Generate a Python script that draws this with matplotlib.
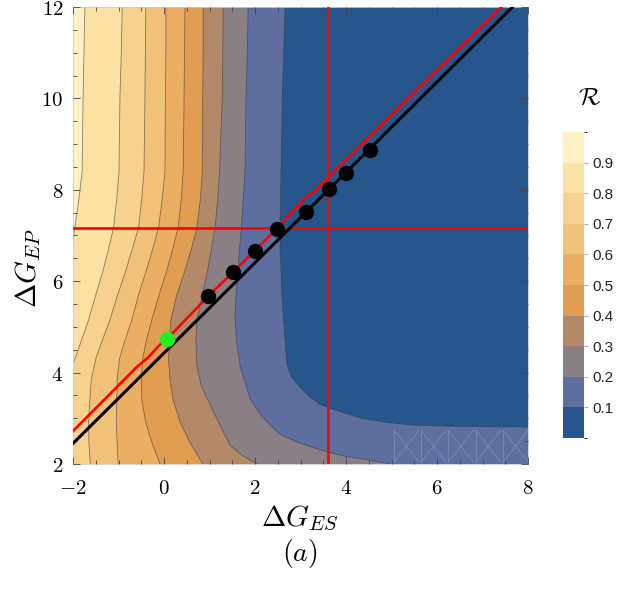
import numpy as np
import matplotlib.pyplot as plt
from matplotlib.colors import ListedColormap, BoundaryNorm
from matplotlib.cm import ScalarMappable

plt.rcParams['mathtext.fontset'] = 'cm'

# axis ranges and ticks
x_lim = [-2, 8]
y_lim = [2, 12]
x_ticks = [-2, 0, 2, 4, 6, 8]
y_ticks = [2, 4, 6, 8, 10, 12]

# contour levels of R and band colours (lowest band first)
levels = [0.0, 0.1, 0.2, 0.3, 0.4, 0.5, 0.6, 0.7, 0.8, 0.9, 1.0]
band_colors = ['#26568B', '#5E6E9F', '#8A7F85', '#B38A69', '#E19D51',
               '#EBAF63', '#F2C179', '#F7D18E', '#FCE1A5', '#FFF1C4']
cbar_labels = ['0.1', '0.2', '0.3', '0.4', '0.5', '0.6', '0.7', '0.8', '0.9']

# contour lines, from the top edge downwards
yy = [12, 11, 10, 8.4, 7.8, 7.17, 6.7, 6.2, 5.7, 5.15, 4.7, 4.3, 3.85, 3.4, 2.9, 2.45, 2.0]

c90_x = [-1.74, -1.76, -1.78, -1.80, -1.87, -1.96, -2.0]
c90_y = [12, 11, 10, 8.4, 7.8, 7.17, 6.9]

c80_x = [-0.92, -0.94, -0.97, -0.99, -1.04, -1.11, -1.22, -1.35, -1.50, -1.66, -1.80, -1.92, -2.0]
c80_y = [12, 11, 10, 8.4, 7.8, 7.17, 6.7, 6.2, 5.7, 5.15, 4.75, 4.4, 4.2]

c70_x = [-0.40, -0.41, -0.42, -0.44, -0.49, -0.56, -0.70, -0.85, -1.02, -1.19, -1.36, -1.50, -1.60, -1.63, -1.66, -1.65, -1.62]
c60_x = [0.04, 0.04, 0.03, 0.02, -0.04, -0.12, -0.25, -0.40, -0.56, -0.71, -0.86, -0.98, -1.03, -1.04, -1.05, -1.03, -1.01]
c50_x = [0.46, 0.45, 0.44, 0.42, 0.38, 0.31, 0.19, 0.05, -0.11, -0.27, -0.39, -0.47, -0.50, -0.49, -0.40, -0.26, -0.09]
c40_x = [0.86, 0.86, 0.85, 0.84, 0.80, 0.72, 0.60, 0.45, 0.28, 0.15, 0.12, 0.10, 0.13, 0.20, 0.36, 0.58, 0.85]

c30_x = [1.30, 1.29, 1.28, 1.22, 1.18, 1.12, 1.04, 0.95, 0.84, 0.72, 0.70, 0.72, 0.82, 1.01, 1.23, 1.45, 1.70, 1.96, 2.05]
c30_y = [12, 11, 10, 8.4, 7.8, 7.17, 6.7, 6.2, 5.7, 5.15, 4.7, 4.15, 3.7, 3.3, 2.85, 2.41, 2.2, 2.05, 2.0]

c20_x = [1.85, 1.83, 1.80, 1.78, 1.74, 1.70, 1.66, 1.62, 1.58, 1.56, 1.59, 1.67, 1.89, 2.10, 2.33, 2.55, 2.92, 3.30, 3.65, 4.02, 4.31, 4.97]
c20_y = [12, 11, 10, 8.4, 7.8, 7.17, 6.7, 6.2, 5.7, 5.2, 4.7, 4.15, 3.43, 3.1, 2.85, 2.65, 2.48, 2.35, 2.25, 2.16, 2.12, 2.0]

c10_x = [2.66, 2.63, 2.60, 2.57, 2.56, 2.55, 2.55, 2.57, 2.59, 2.62, 2.66, 2.70, 2.80, 2.99, 3.20, 3.43, 3.94, 4.38, 4.90, 5.48, 6.5, 8.0]
c10_y = [12, 11, 10, 8.4, 7.8, 7.17, 6.7, 6.2, 5.7, 5.24, 4.7, 4.19, 3.9, 3.68, 3.47, 3.3, 3.12, 2.99, 2.91, 2.85, 2.82, 2.81]

# straight black line, red path, red cross lines
black_x = [-2.0, 7.66]
black_y = [2.45, 12.0]
red_x = [-2.0, -0.6, -0.35, -0.1, 0.07, 0.97, 1.52, 2.0, 2.48, 3.14, 3.27, 3.87, 7.42]
red_y = [2.72, 4.12, 4.33, 4.6, 4.74, 5.67, 6.2, 6.67, 7.15, 7.86, 7.93, 8.54, 12.0]
red_vx = 3.6
red_hy = 7.17

# points
dot_x = [0.97, 1.52, 2.0, 2.48, 3.12, 3.63, 4.0, 4.53]
dot_y = [5.67, 6.20, 6.67, 7.15, 7.52, 8.02, 8.37, 8.87]
green_x = [0.07]
green_y = [4.74]

# faint mesh artefact in the lower right band
mesh_x0 = [5.05, 5.65, 6.25, 6.85, 7.45]
mesh_w = 0.55
mesh_y = [2.04, 2.74]

contours = [(0.1, c10_x, c10_y), (0.2, c20_x, c20_y), (0.3, c30_x, c30_y),
            (0.4, c40_x, yy), (0.5, c50_x, yy), (0.6, c60_x, yy),
            (0.7, c70_x, yy), (0.8, c80_x, c80_y), (0.9, c90_x, c90_y)]


def region(xs, ys):
    px, py = list(xs), list(ys)
    if px[-1] >= x_lim[1]:
        px.append(x_lim[1]); py.append(y_lim[0])
    if py[-1] <= y_lim[0]:
        px.append(x_lim[0]); py.append(y_lim[0])
    px.append(x_lim[0]); py.append(y_lim[1])
    return px, py


fig = plt.figure(figsize=(6.19, 5.94), dpi=100)
ax = fig.add_axes([0.118, 0.2189, 0.735, 0.7694])

ax.fill([x_lim[0], x_lim[1], x_lim[1], x_lim[0]], [y_lim[0], y_lim[0], y_lim[1], y_lim[1]],
        color=band_colors[0], lw=0, zorder=0.5)
for i, (lev, cx, cy) in enumerate(contours):
    px, py = region(cx, cy)
    ax.fill(px, py, color=band_colors[i + 1], lw=0, zorder=0.6 + 0.01 * i)
for lev, cx, cy in contours:
    ax.plot(cx, cy, color='#3a3a3a', lw=0.6, alpha=0.6, zorder=1)

for x0 in mesh_x0:
    ax.plot([x0, x0 + mesh_w], mesh_y, color='#8d9bc6', lw=0.5, alpha=0.7, zorder=1)
    ax.plot([x0, x0 + mesh_w], mesh_y[::-1], color='#8d9bc6', lw=0.5, alpha=0.7, zorder=1)
    ax.plot([x0, x0], mesh_y, color='#8d9bc6', lw=0.5, alpha=0.7, zorder=1)

ax.axvline(red_vx, color='#FF0000', lw=1.9, zorder=3)
ax.axhline(red_hy, color='#FF0000', lw=1.9, zorder=3)
ax.plot(black_x, black_y, color='black', lw=2.2, zorder=3)
ax.plot(red_x, red_y, color='#FF0000', lw=1.9, zorder=3.5)
ax.plot(dot_x, dot_y, 'o', color='black', ms=10, zorder=4)
ax.plot(green_x, green_y, 'o', color='#22EE22', ms=10, zorder=4)

ax.set_xlim(x_lim)
ax.set_ylim(y_lim)
ax.set_xticks(x_ticks)
ax.set_yticks(y_ticks)
ax.set_xticks(np.arange(x_lim[0], x_lim[1] + 0.01, 0.5), minor=True)
ax.set_yticks(np.arange(y_lim[0], y_lim[1] + 0.01, 0.5), minor=True)
ax.set_xticklabels(['$%d$' % v for v in x_ticks])
ax.set_yticklabels(['$%d$' % v for v in y_ticks])
ax.tick_params(which='both', direction='in', top=True, right=True, color='#444444', width=0.6,
               labelsize=15)
ax.tick_params(axis='x', pad=10)
ax.tick_params(axis='y', pad=7)
ax.tick_params(which='major', length=5)
ax.tick_params(which='minor', length=3)
for s in ax.spines.values():
    s.set_color('#cccccc')
    s.set_linewidth(0.6)
ax.set_axisbelow(False)

fig.text(300 / 619, 1 - 518 / 594, r'$\Delta G_{ES}$', fontsize=21, ha='center', va='center')
fig.text(28 / 619, 1 - 268 / 594, r'$\Delta G_{EP}$', fontsize=21, ha='center', va='center', rotation=90)
fig.text(300 / 619, 1 - 554 / 594, r'$(a)$', fontsize=20, ha='center', va='center')

cax = fig.add_axes([0.9095, 0.2626, 0.034, 0.515])
sm = ScalarMappable(norm=BoundaryNorm(levels, len(band_colors)), cmap=ListedColormap(band_colors))
cb = fig.colorbar(sm, cax=cax, ticks=levels[1:-1])
cb.set_ticklabels(cbar_labels)
cb.outline.set_visible(False)
cax.tick_params(length=3, width=0.6, color='#999999', labelsize=11, pad=3)
for t in cax.get_yticklabels():
    t.set_fontfamily('Liberation Sans')
    t.set_color('#222222')
fig.text(590 / 619, 1 - 97 / 594, r'$\mathcal{R}$', fontsize=18, ha='center', va='center')

fig.savefig('out.png', dpi=100)
